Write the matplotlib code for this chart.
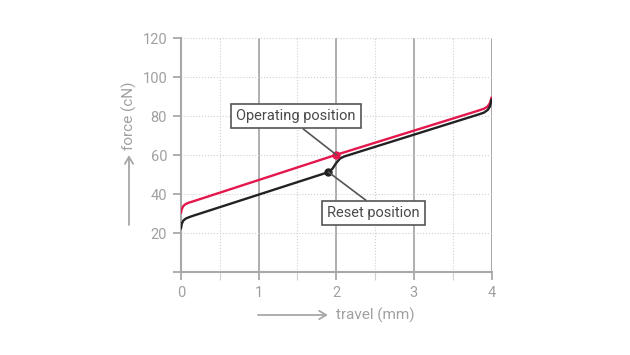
import matplotlib
matplotlib.use('Agg')
import matplotlib.pyplot as plt
from matplotlib.ticker import MultipleLocator

plt.rcParams['font.family'] = ['Roboto', 'DejaVu Sans']

# operating curve (red) and reset curve (black), travel in mm, force in cN
red_x = [0, 0.01, 0.03, 0.06, 0.1, 0.15, 2.0, 3.8, 3.9, 3.95, 3.98, 4.0]
red_y = [30.5, 32.3, 33.9, 34.9, 35.6, 36.2, 60.2, 82.5, 83.8, 85.0, 86.8, 89.5]
blk_x = [0, 0.01, 0.03, 0.06, 0.1, 0.15, 1.9, 1.95, 2.0, 2.05, 2.1, 3.8, 3.9, 3.95, 3.98, 4.0]
blk_y = [22.5, 24.8, 26.4, 27.4, 28.1, 28.8, 51.3, 53.0, 56.0, 58.3, 59.3, 80.5, 81.8, 83.2, 85.0, 88.5]
operating_pt = (2.0, 60.2)
reset_pt = (1.9, 51.3)
xticks = [0, 1, 2, 3, 4]
yticks = [0, 20, 40, 60, 80, 100, 120]
ytick_labels = ['', '20', '40', '60', '80', '100', '120']

RED = '#e3174b'
BLK = '#222222'
GRAY = '#a8a8a8'
LGRAY = '#d0d0d0'
TXT = '#4a4a4a'

fig = plt.figure(figsize=(6.3, 3.55), dpi=100)
ax = fig.add_axes([0.2873, 0.2338, 0.4929, 0.6582])
ax.set_xlim(0, 4)
ax.set_ylim(0, 120)

# grid
ax.xaxis.set_minor_locator(MultipleLocator(0.5))
ax.set_xticks(xticks)
ax.set_yticks(yticks)
ax.set_yticklabels(ytick_labels)
ax.grid(True, which='major', axis='x', color=GRAY, lw=1.3, ls='-')
ax.grid(True, which='minor', axis='x', color=LGRAY, lw=0.8, ls=':')
ax.grid(True, which='major', axis='y', color=LGRAY, lw=0.8, ls=':')
ax.set_axisbelow(True)

for s in ['top', 'right']:
    ax.spines[s].set_visible(False)
ax.axvline(4, color=GRAY, lw=1.3, zorder=0.5)
for s in ['left', 'bottom']:
    ax.spines[s].set_color(GRAY)
    ax.spines[s].set_linewidth(1.5)
ax.tick_params(which='major', color=GRAY, width=1.3, length=6, labelcolor='#a0a0a0',
               labelsize=10.5, pad=4)
ax.tick_params(which='minor', color=LGRAY, width=0.8, length=6)

ax.plot(red_x, red_y, color=RED, lw=1.7, zorder=3)
ax.plot(blk_x, blk_y, color=BLK, lw=1.7, zorder=3)
ax.plot(*operating_pt, 'o', color=RED, ms=5, zorder=4)
ax.plot(*reset_pt, 'o', color=BLK, ms=5, zorder=4)

box = dict(boxstyle='square,pad=0.35', fc='white', ec='#555555', lw=1.2)
ax.annotate('Operating position', xy=operating_pt, xytext=(1.48, 80),
            ha='center', va='center', fontsize=10.5, color=TXT, bbox=box,
            arrowprops=dict(arrowstyle='-', color='#555555', lw=1.2,
                            relpos=(0.5, 0), shrinkA=0, shrinkB=0), zorder=5)
ax.annotate('Reset position', xy=reset_pt, xytext=(2.48, 30.3),
            ha='center', va='center', fontsize=10.5, color=TXT, bbox=box,
            arrowprops=dict(arrowstyle='-', color='#555555', lw=1.2,
                            relpos=(0.5, 1), shrinkA=0, shrinkB=0), zorder=5)

# axis labels with arrows
arr = dict(arrowstyle='->,head_length=0.5,head_width=0.3', color=GRAY, lw=1.3,
           shrinkA=0, shrinkB=0)
ax.annotate('', xy=(-0.1675, 0.50), xytext=(-0.1675, 0.201),
            xycoords='axes fraction', textcoords='axes fraction', arrowprops=arr,
            annotation_clip=False)
ax.text(-0.1675, 0.521, 'force (cN)', transform=ax.transAxes, rotation=90,
        ha='center', va='bottom', fontsize=11, color='#a0a0a0')
ax.annotate('', xy=(0.473, -0.184), xytext=(0.248, -0.184),
            xycoords='axes fraction', textcoords='axes fraction', arrowprops=arr,
            annotation_clip=False)
ax.text(0.499, -0.184, 'travel (mm)', transform=ax.transAxes,
        ha='left', va='center', fontsize=11, color='#a0a0a0')

fig.savefig('out.png', dpi=100)
